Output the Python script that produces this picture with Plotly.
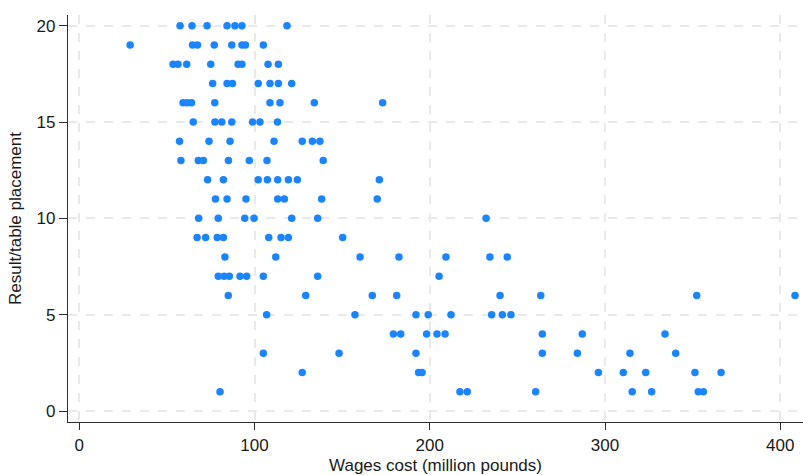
import plotly.graph_objects as go

# Wage bill (million pounds) and final league placement for each club-season
wages = [
    57.5, 64.3, 72.9, 84.3, 88.8, 92.8, 118.5,
    29.0, 64.6, 67.4, 77.0, 87.0, 92.8, 94.8, 105.0,
    53.5, 56.3, 61.3, 75.0, 90.6, 92.8, 107.7, 113.6,
    76.1, 84.3, 87.4, 102.1, 108.8, 113.6, 121.2,
    59.2, 61.5, 64.0, 77.3, 108.8, 114.5, 134.1, 173.1,
    65.0, 77.4, 81.3, 87.0, 98.9, 103.1, 113.1,
    57.2, 74.0, 86.0, 111.1, 127.2, 133.0, 137.3,
    58.0, 67.9, 70.8, 85.1, 97.0, 107.1, 139.2,
    73.2, 82.2, 102.1, 107.3, 113.2, 119.3, 124.4, 171.2,
    77.7, 84.3, 95.1, 113.2, 117.0, 138.3, 170.0,
    68.1, 79.3, 94.4, 99.7, 121.2, 136.0, 232.1,
    67.2, 72.1, 78.7, 82.2, 108.1, 115.1, 119.3, 150.3,
    83.1, 112.1, 160.2, 182.4, 209.2, 234.3, 244.2,
    79.3, 82.6, 85.6, 91.7, 95.5, 105.0, 136.0, 205.3,
    85.0, 129.2, 167.2, 181.1, 240.1, 263.3, 352.3, 408.4,
    106.9, 157.3, 192.1, 199.1, 212.1, 235.3, 241.4, 246.3,
    179.2, 183.4, 198.2, 204.1, 208.7, 264.2, 287.0, 334.2,
    105.0, 148.2, 192.1, 264.2, 284.2, 314.2, 340.3,
    127.2, 193.6, 195.6, 296.2, 310.4, 323.2, 351.3, 366.2,
    80.3, 217.2, 221.4, 260.4, 315.5, 326.6, 353.2, 356.1,
]

placement = (
    [20] * 7 + [19] * 8 + [18] * 8 + [17] * 7 + [16] * 8
    + [15] * 7 + [14] * 7 + [13] * 7 + [12] * 8 + [11] * 7
    + [10] * 7 + [9] * 8 + [8] * 7 + [7] * 8 + [6] * 8
    + [5] * 8 + [4] * 8 + [3] * 7 + [2] * 8 + [1] * 8
)

x_ticks = [0, 100, 200, 300, 400]
y_ticks = [0, 5, 10, 15, 20]

FONT = "Arial, Liberation Sans, sans-serif"
GRID = "#e9e9e9"
AXIS = "#2e2e2e"

fig = go.Figure(
    go.Scatter(
        x=wages,
        y=placement,
        mode="markers",
        marker=dict(color="#1a85ff", size=7.5, line=dict(width=0)),
        hoverinfo="x+y",
    )
)

fig.update_layout(
    width=803,
    height=475,
    margin=dict(l=68, r=0, t=15, b=53),
    paper_bgcolor="white",
    plot_bgcolor="white",
    showlegend=False,
    font=dict(family=FONT, size=17, color="#1a1a1a"),
)

fig.update_xaxes(
    range=[-6.45, 412.95],
    tickvals=x_ticks,
    ticks="outside",
    ticklen=7,
    tickwidth=1.3,
    tickcolor=AXIS,
    showline=True,
    linecolor=AXIS,
    linewidth=1.3,
    showgrid=True,
    gridcolor=GRID,
    gridwidth=1.5,
    griddash="dash",
    zeroline=False,
    title=dict(text="Wages cost (million pounds)", font=dict(size=17), standoff=6),
)

fig.update_yaxes(
    range=[-0.571, 20.555],
    tickvals=y_ticks,
    ticks="outside",
    ticklen=8,
    tickwidth=1.3,
    tickcolor=AXIS,
    showline=True,
    linecolor=AXIS,
    linewidth=1.3,
    showgrid=True,
    gridcolor=GRID,
    gridwidth=1.5,
    griddash="dash",
    zeroline=False,
    title=dict(text="Result/table placement", font=dict(size=17), standoff=10),
)

fig.write_html("out.html")
